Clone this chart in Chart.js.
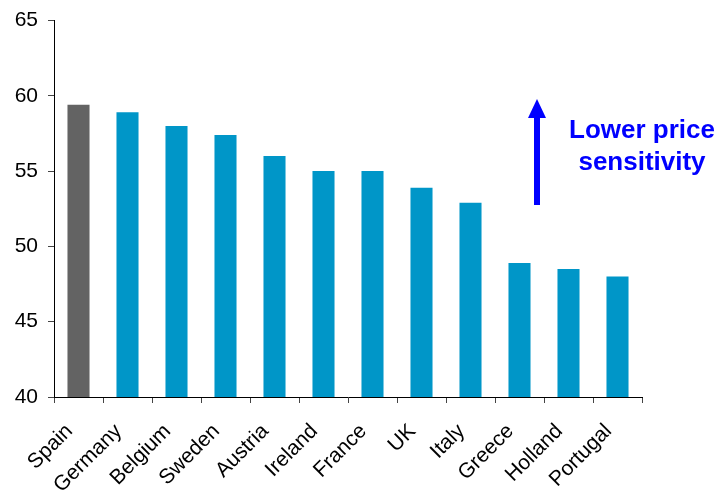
<!DOCTYPE html>
<html>
<head>
<meta charset="utf-8">
<script src="https://cdn.jsdelivr.net/npm/chart.js@4/dist/chart.umd.min.js"></script>
<style>
  html, body { margin: 0; padding: 0; background: #fff; }
  #wrap { width: 720px; height: 492px; }
</style>
</head>
<body>
<div id="wrap"><canvas id="sensChart"></canvas></div>
<script>
const countries = ['Spain', 'Germany', 'Belgium', 'Sweden', 'Austria', 'Ireland', 'France', 'UK', 'Italy', 'Greece', 'Holland', 'Portugal'];
const scores = [59.4, 58.9, 58.0, 57.4, 56.0, 55.0, 55.0, 53.9, 52.9, 48.9, 48.5, 48.0];
const barColors = countries.map(c => c === 'Spain' ? '#636363' : '#0096C8');

// arrow + caption on the right side
const sensitivityNote = {
    id: 'sensitivityNote',
    afterDraw(chart) {
        const ctx = chart.ctx;
        ctx.save();
        ctx.fillStyle = '#0000FF';
        ctx.strokeStyle = '#0000FF';
        const x = 537;
        ctx.lineWidth = 6;
        ctx.beginPath();
        ctx.moveTo(x, 205);
        ctx.lineTo(x, 116);
        ctx.stroke();
        ctx.beginPath();
        ctx.moveTo(x, 99);
        ctx.lineTo(x - 9, 118);
        ctx.lineTo(x + 9, 118);
        ctx.closePath();
        ctx.fill();

        ctx.font = 'bold 26px "Liberation Sans", Arial, sans-serif';
        ctx.textAlign = 'center';
        ctx.textBaseline = 'middle';
        ctx.fillText('Lower price', 642, 131);
        ctx.fillText('sensitivity', 642, 163);
        ctx.restore();
    }
};

new Chart(document.getElementById('sensChart').getContext('2d'), {
    type: 'bar',
    data: {
        labels: countries,
        datasets: [{
            data: scores,
            backgroundColor: barColors,
            categoryPercentage: 1.0,
            barPercentage: 0.45
        }]
    },
    options: {
        responsive: true,
        maintainAspectRatio: false,
        animation: false,
        layout: { padding: { left: 0, right: 78, top: 20, bottom: 0 } },
        plugins: {
            legend: { display: false },
            tooltip: { enabled: false }
        },
        scales: {
            x: {
                grid: { display: true, drawOnChartArea: false, drawTicks: true, tickLength: 6, color: '#444', offset: true },
                border: { display: true, color: '#000', width: 1 },
                ticks: {
                    color: '#000',
                    minRotation: 45,
                    maxRotation: 45,
                    padding: 16,
                    labelOffset: -9,
                    font: { family: '"Liberation Sans", Arial, sans-serif', size: 21 }
                },
                afterFit(scale) { scale.height = 95; }
            },
            y: {
                min: 40,
                max: 65,
                grid: { display: true, drawOnChartArea: false, drawTicks: true, tickLength: 6, color: '#444' },
                border: { display: true, color: '#000', width: 1 },
                ticks: {
                    stepSize: 5,
                    color: '#000',
                    padding: 10,
                    font: { family: '"Liberation Sans", Arial, sans-serif', size: 21, lineHeight: 1 }
                },
                afterFit(scale) { scale.width = 54; }
            }
        }
    },
    plugins: [sensitivityNote]
});
</script>
</body>
</html>
